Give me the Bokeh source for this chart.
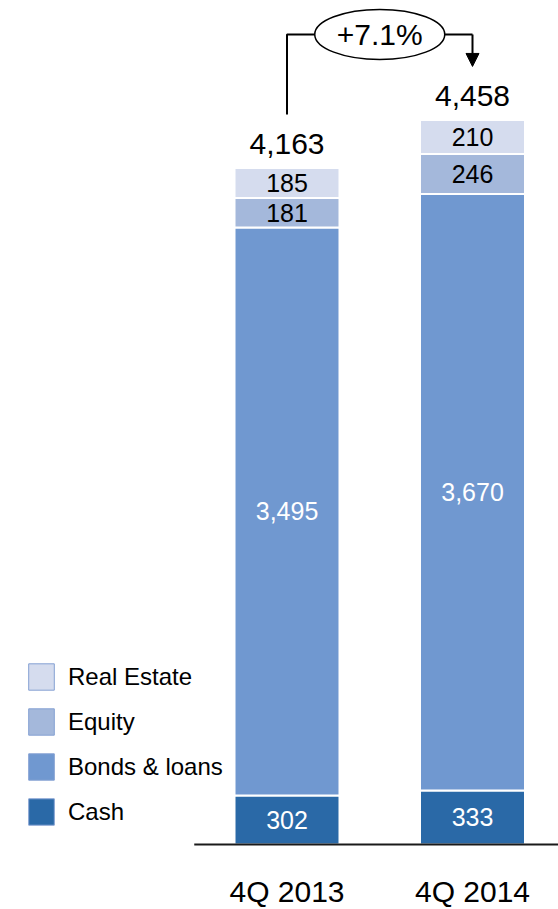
from bokeh.plotting import figure
from bokeh.models import ColumnDataSource, Range1d, Legend, LegendItem, Arrow, NormalHead
from bokeh.core.properties import value
from bokeh.embed import file_html
from bokeh.resources import INLINE

categories = ["4Q 2013", "4Q 2014"]
series_names = ["Cash", "Bonds & loans", "Equity", "Real Estate"]
cash = [302, 333]
bonds = [3495, 3670]
equity = [181, 246]
real_estate = [185, 210]
totals = [4163, 4458]

colors = ["#2A69A7", "#7098D0", "#A4B8DB", "#D5DCEE"]
label_colors = ["white", "white", "black", "black"]
FONT = value("Liberation Sans")

W, H = 558, 909
p = figure(width=W, height=H, output_backend="svg", toolbar_location=None,
           x_axis_type=None, y_axis_type=None,
           x_range=Range1d(-1.5445, 1.4636), y_range=Range1d(-400, 5193.8),
           min_border=0, outline_line_color=None)
p.grid.visible = False

xs = list(range(len(categories)))

# legend proxies: zero-height bars hidden beneath the stacks and the baseline
items = []
for name, col in reversed(list(zip(series_names, colors))):
    r = p.vbar(x=[xs[0]], top=[0], bottom=[0], width=0.4, fill_color=col,
               line_color="#84A0D3", line_width=1, level="underlay")
    items.append(LegendItem(label=name, renderers=[r]))

src = ColumnDataSource(dict(x=xs, cash=cash, bonds=bonds, equity=equity, real_estate=real_estate))
keys = ["cash", "bonds", "equity", "real_estate"]
p.vbar_stack(keys, x="x", width=0.566, color=colors, source=src,
             line_color="white", line_width=2)

# segment labels
series = [cash, bonds, equity, real_estate]
lx, ly, lt, lc = [], [], [], []
for i in xs:
    base = 0
    for s, col in zip(series, label_colors):
        v = s[i]
        lx.append(i); ly.append(base + v / 2); lt.append(f"{v:,}"); lc.append(col)
        base += v
p.text(x=lx, y=ly, text=lt, text_color=lc, text_align="center", text_baseline="middle",
       text_font=FONT, text_font_size="25px")

# totals
p.text(x=xs, y=totals, text=[f"{t:,}" for t in totals], text_align="center",
       text_baseline="middle", y_offset=-24, text_font=FONT, text_font_size="30px",
       text_color="black")

# category labels
p.text(x=xs, y=[0, 0], text=categories, text_align="center", text_baseline="middle",
       y_offset=47, text_font=FONT, text_font_size="30px", text_color="black")

# baseline
p.segment(x0=[-0.5], y0=[0], x1=[2.0], y1=[0], line_color="#1a1a1a", line_width=2)

# growth bracket
gap = 330
bracket_y = max(totals) + 527
p.line(x=[xs[0], xs[0], xs[1]], y=[totals[0] + gap, bracket_y, bracket_y],
       line_color="black", line_width=2)
p.add_layout(Arrow(end=NormalHead(size=13, fill_color="black", line_color="black", line_width=1),
                   x_start=xs[1], y_start=bracket_y, x_end=xs[1], y_end=totals[1] + gap,
                   line_color="black", line_width=2))
growth = (totals[1] / totals[0] - 1) * 100
mid = (xs[0] + xs[1]) / 2
p.ellipse(x=[mid], y=[bracket_y], width=130, height=50, width_units="screen",
          height_units="screen", fill_color="white", line_color="black", line_width=1.5)
p.text(x=[mid], y=[bracket_y], text=[f"+{growth:.1f}%"], text_align="center",
       text_baseline="middle", text_font=FONT, text_font_size="30px", text_color="black")

legend = Legend(items=items, location=(25, 81), padding=0, margin=0, spacing=12,
                glyph_width=32, glyph_height=33, label_standoff=11,
                label_text_font="Liberation Sans", label_text_font_size="24px",
                label_text_color="black",
                border_line_color=None, background_fill_alpha=0)
p.add_layout(legend)

open("out.html", "w").write(file_html(p, INLINE))
